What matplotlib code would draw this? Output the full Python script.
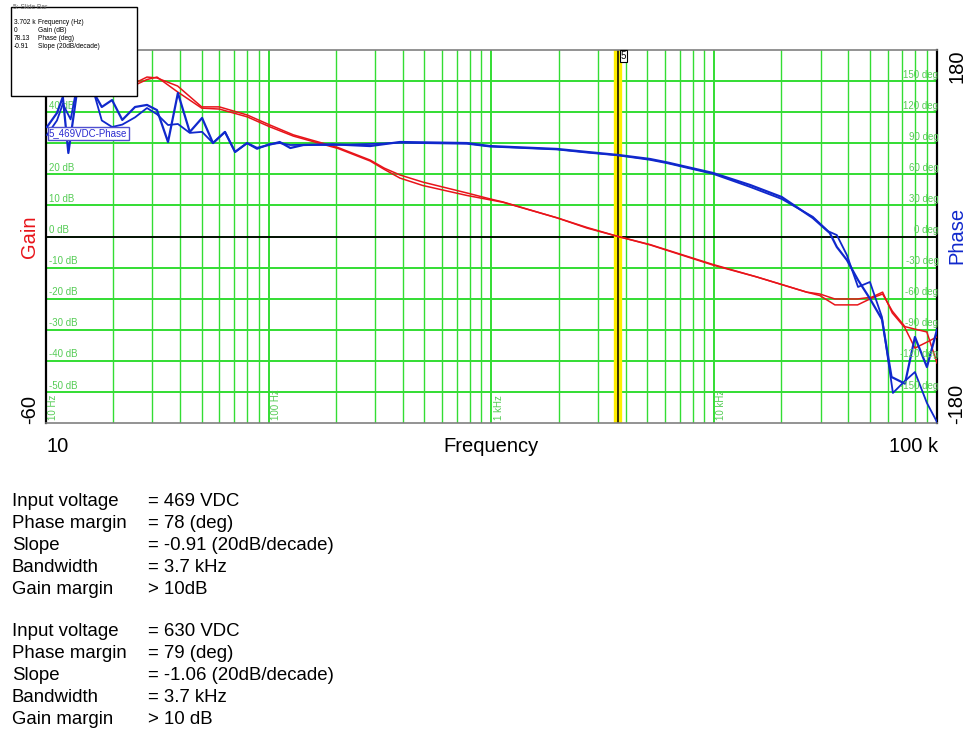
import numpy as np
import matplotlib.pyplot as plt
from matplotlib.patches import Rectangle
import matplotlib.transforms as mtransforms

plt.rcParams['font.family'] = ['Liberation Sans', 'DejaVu Sans']

# gain data (Hz, dB)
gain_freq = [10, 13, 16, 20, 25.6, 28.4, 31.5, 39, 50, 60,
             80, 101, 129, 205, 285, 330, 388, 492, 776, 984,
             1127, 1970, 2686, 3702, 5150, 9870, 15500, 26000, 29800, 34800,
             44000, 51000, 57000, 63000, 71800, 79600, 90000, 100000]
gain_469 = [47, 49, 50, 50, 49.7, 51.3, 51.0, 48.4, 41.7, 41.7,
            39.1, 35.9, 32.7, 28.6, 24.6, 22.0, 19.8, 17.5, 14.0, 12.1,
            11.1, 6.0, 2.7, 0.0, -2.7, -9.2, -13.0, -17.9, -18.5, -20.1,
            -20.1, -19.5, -17.9, -24.6, -29.4, -35.9, -34.0, -32.3]
gain_630 = [46, 48, 49, 50, 49.0, 50.5, 51.3, 46.5, 41.3, 41.0,
            38.5, 35.3, 32.3, 28.3, 24.3, 21.6, 18.8, 16.4, 13.2, 11.8,
            11.0, 6.0, 2.9, 0.0, -2.6, -9.0, -13.0, -17.9, -19.0, -22.0,
            -22.0, -19.8, -18.5, -24.0, -29.0, -29.8, -30.7, -40.7]

# phase data (Hz, deg)
phase_freq_469 = [10.1, 11.2, 11.9, 12.6, 13.8, 15.1, 16.6, 17.8, 19.8, 22.0,
                  25.1, 28.4, 31.5, 35.3, 39.1, 44.2, 50.2, 56.2, 63.6, 70.6,
                  79.9, 88.6, 112, 125, 143, 194, 285, 388, 776, 984,
                  1970, 2686, 3702, 5150, 6140, 9870, 14500, 20100, 27700, 33000,
                  35500, 39400, 44200, 50000, 56600, 62500, 71800, 79600, 90100, 100000]
phase_469 = [105.7, 119.2, 134.6, 80.6, 141, 170, 136.6, 125, 131.7, 112.5,
             125, 127, 122, 91.2, 138.5, 100.9, 114.4, 90.2, 100.9, 81.6,
             90.2, 85.4, 91.2, 85.4, 88.3, 89.0, 87.3, 91.2, 90.2, 87.3,
             84.5, 81.6, 78.7, 74.8, 71.5, 61.3, 49.7, 38.1, 17.9, 3.4,
             -10.1, -22.7, -42.0, -60.0, -80.0, -135.6, -142.0, -97.0, -126.0, -90.0]
phase_freq_630 = [10.1, 11.2, 11.9, 12.9, 13.8, 15.1, 16.6, 17.8, 19.8, 22.0,
                  25.1, 28.4, 31.5, 35.3, 39.1, 44.2, 50.2, 56.2, 63.6, 70.6,
                  79.9, 88.6, 100, 112, 125, 143, 194, 285, 388, 776,
                  984, 1970, 2686, 3702, 5150, 6140, 9870, 14500, 20100, 27700,
                  32500, 35500, 39400, 44200, 50000, 56600, 63400, 71000, 79600, 90100,
                  100000]
phase_630 = [98, 112, 128, 113, 146, 165, 135, 112, 105.7, 108,
             115, 124, 118, 107.6, 108.6, 100, 101, 90.2, 101, 81.6,
             90, 84.5, 89, 90.2, 88.3, 88.5, 88.3, 89.3, 90.5, 89.5,
             86.8, 84.0, 81.0, 78.3, 74.0, 70.8, 60.5, 47.8, 36.2, 19.0,
             5.0, 1.4, -17.9, -48.7, -43.9, -77.7, -151.0, -140.4, -130.8, -160.7,
             -179.0]

cursor_freq = 3702

# inside labels that are not hidden behind the boxes
gain_labels = [-50, -40, -30, -20, -10, 0, 10, 20, 40]
phase_labels = list(range(-150, 180, 30))

W, H = 970, 732
RED = '#e8141a'
BLUE = '#1028cc'
GRID = '#33dd33'
LBL = '#55cc55'

fig = plt.figure(figsize=(W / 100, H / 100), dpi=100)
ax = fig.add_axes([46 / W, 1 - 423 / H, 891 / W, 373 / H])
ax.set_xscale('log')
ax.set_xlim(10, 1e5)
ax.set_ylim(-60, 60)
ax.set_yticks(np.arange(-50, 60, 10))
ax.set_xticks([10, 100, 1000, 10000, 100000])
ax.set_xticks([m * d for d in [10, 100, 1000, 10000] for m in range(2, 10)], minor=True)
ax.grid(which='major', color=GRID, lw=1.4)
ax.grid(which='minor', axis='x', color=GRID, lw=1.0)
ax.tick_params(which='both', length=0, labelleft=False, labelbottom=False)
for side in ['left', 'right']:
    ax.spines[side].set_color('black')
    ax.spines[side].set_linewidth(1.6)
for side in ['top', 'bottom']:
    ax.spines[side].set_color('#808080')
    ax.spines[side].set_linewidth(1.2)
ax.axhline(0, color='black', lw=1.3)
ax.axvline(cursor_freq, color='#ffee00', lw=6)
ax.axvline(cursor_freq, color='black', lw=1.1)

ax.plot(gain_freq, gain_469, color=RED, lw=1.1, zorder=4)
ax.plot(gain_freq, gain_630, color=RED, lw=1.1, zorder=4)

ax2 = ax.twinx()
ax2.set_ylim(-180, 180)
ax2.set_yticks([])
for s in ax2.spines.values():
    s.set_visible(False)
ax2.plot(phase_freq_469, phase_469, color=BLUE, lw=1.6)
ax2.plot(phase_freq_630, phase_630, color=BLUE, lw=1.3)

# inside labels
tl = mtransforms.blended_transform_factory(ax.transAxes, ax.transData)
for v in gain_labels:
    ax.annotate(f'{v} dB', xy=(0.003, v), xycoords=tl, xytext=(0, 1),
                textcoords='offset points', fontsize=7, color=LBL,
                ha='left', va='bottom', zorder=5)
tr = mtransforms.blended_transform_factory(ax2.transAxes, ax2.transData)
for v in phase_labels:
    ax2.annotate(f'{v} deg', xy=(1.0, v), xycoords=tr, xytext=(1, 1),
                 textcoords='offset points', fontsize=7, color=LBL,
                 ha='right', va='bottom', annotation_clip=False)
tb = mtransforms.blended_transform_factory(ax.transData, ax.transAxes)
for f, lab in zip([10, 100, 1000, 10000], ['10 Hz', '100 Hz', '1 kHz', '10 kHz']):
    ax.annotate(lab, xy=(f, 0.008), xycoords=tb, xytext=(1.5, 0),
                textcoords='offset points', fontsize=7, color=LBL,
                rotation=90, ha='left', va='bottom')


def fx(x):
    return x / W


def fy(y):
    return 1 - y / H


# outer axis labels
fig.text(fx(30), fy(237), 'Gain', rotation=90, color=RED, fontsize=14.5, ha='center', va='center')
fig.text(fx(30), fy(409), '-60', rotation=90, color='black', fontsize=14.5, ha='center', va='center')
fig.text(fx(957), fy(235), 'Phase', rotation=90, color=BLUE, fontsize=14.5, ha='center', va='center')
fig.text(fx(957), fy(66), '180', rotation=90, color='black', fontsize=14.5, ha='center', va='center')
fig.text(fx(957), fy(404), '-180', rotation=90, color='black', fontsize=14.5, ha='center', va='center')
fig.text(fx(47), fy(446), '10', fontsize=14.5, ha='left', va='center')
fig.text(fx(491), fy(446), 'Frequency', fontsize=14.5, ha='center', va='center')
fig.text(fx(938), fy(446), '100 k', fontsize=14.5, ha='right', va='center')

# slide bar box
fig.add_artist(Rectangle((fx(11), fy(96)), 126 / W, 89 / H, transform=fig.transFigure,
                         fc='white', ec='black', lw=1.0, zorder=10))
fig.text(fx(13), fy(7.5), '5: Slide Bar', fontsize=4.8, color='#666666', ha='left', va='center', zorder=11)
slide_vals = ['3.702 k', '0', '78.13', '-0.91']
slide_names = ['Frequency (Hz)', 'Gain (dB)', 'Phase (deg)', 'Slope (20dB/decade)']
for i, (v, n) in enumerate(zip(slide_vals, slide_names)):
    yy = 23 + i * 7.7
    fig.text(fx(14), fy(yy), v, fontsize=4.8, ha='left', va='center', zorder=11)
    fig.text(fx(38), fy(yy), n, fontsize=4.8, ha='left', va='center', zorder=11)

# trace tag and cursor tag
fig.text(fx(49), fy(133.5), '5_469VDC-Phase', fontsize=7, color='#2a2ad0', ha='left', va='center', zorder=11,
         bbox=dict(boxstyle='square,pad=0.15', fc='white', ec='#5050d0', lw=1.0))
fig.text(fx(623.5), fy(56), '5', fontsize=7, ha='center', va='center', zorder=11,
         bbox=dict(boxstyle='square,pad=0.12', fc='white', ec='black', lw=0.8))

# summary text
names = ['Input voltage', 'Phase margin', 'Slope', 'Bandwidth', 'Gain margin']
vals_469 = ['= 469 VDC', '= 78 (deg)', '= -0.91 (20dB/decade)', '= 3.7 kHz', '> 10dB']
vals_630 = ['= 630 VDC', '= 79 (deg)', '= -1.06 (20dB/decade)', '= 3.7 kHz', '> 10 dB']
for y0, vals in [(501, vals_469), (632, vals_630)]:
    for i, (n, v) in enumerate(zip(names, vals)):
        fig.text(fx(12), fy(y0 + 22 * i), n, fontsize=13.4, ha='left', va='center')
        fig.text(fx(148), fy(y0 + 22 * i), v, fontsize=13.4, ha='left', va='center')

fig.savefig('out.png', dpi=100)
